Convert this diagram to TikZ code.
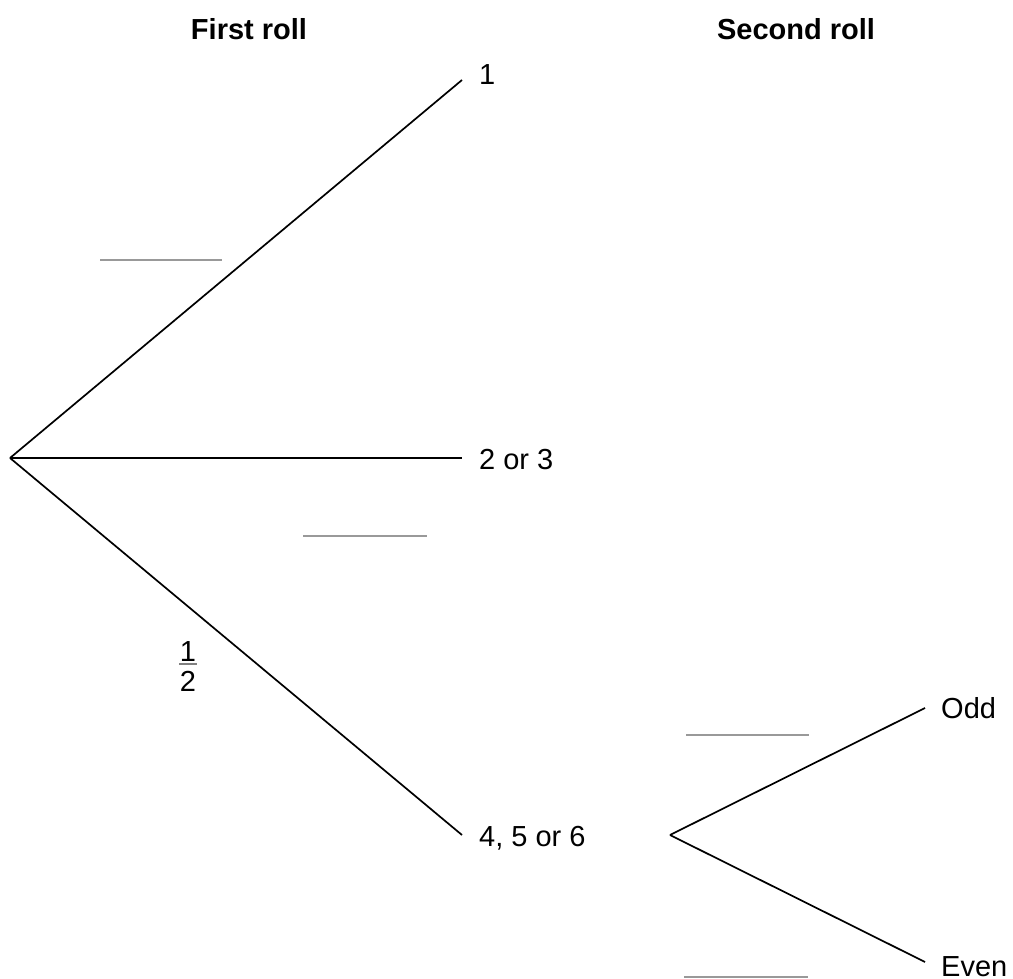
\documentclass[tikz,border=0pt]{standalone}
\usepackage{fontspec}
\setmainfont{Liberation Sans}
\begin{document}
\begin{tikzpicture}[x=1pt,y=-1pt,
  branch/.style={line width=1.7pt,black},
  blank/.style={line width=1.8pt,gray!80},
  lbl/.style={inner sep=0pt,anchor=base west,font=\fontsize{29}{35}\selectfont},
  head/.style={inner sep=0pt,anchor=base,font=\fontsize{29}{35}\selectfont\bfseries},
  num/.style={inner sep=0pt,anchor=base,font=\fontsize{29}{35}\selectfont}]
\useasboundingbox (0,0) rectangle (1013,979);
% headings
\node[head] (h1) at (249,40) {First roll};
\node[head] (h2) at (796,40) {Second roll};
% first roll tree
\coordinate (r) at (10,458);
\coordinate (e1) at (462,80);
\coordinate (e2) at (462,458);
\coordinate (e3) at (462,835);
\draw[branch] (r) -- (e1);
\draw[branch] (r) -- (e2);
\draw[branch] (r) -- (e3);
\node[lbl] (l1) at (479,85) {1};
\node[lbl] (l2) at (479,469) {2 or 3};
\node[lbl] (l3) at (479,846) {4, 5 or 6};
% second roll tree
\coordinate (s) at (670,835);
\coordinate (so) at (925,708);
\coordinate (se) at (925,962);
\draw[branch] (s) -- (so);
\draw[branch] (s) -- (se);
\node[lbl] (lo) at (941,718) {Odd};
\node[lbl] (le) at (941,976) {Even};
% blanks
\draw[blank] (100,260) -- (222,260);
\draw[blank] (303,536) -- (427,536);
\draw[blank] (686,735) -- (809,735);
\draw[blank] (684,977) -- (808,977);
% fraction 1/2
\node[num] (fn) at (188,661) {1};
\draw[line width=1.6pt,gray] (179,664) -- (197,664);
\node[num] (fd) at (188,691) {2};
\end{tikzpicture}
\end{document}
